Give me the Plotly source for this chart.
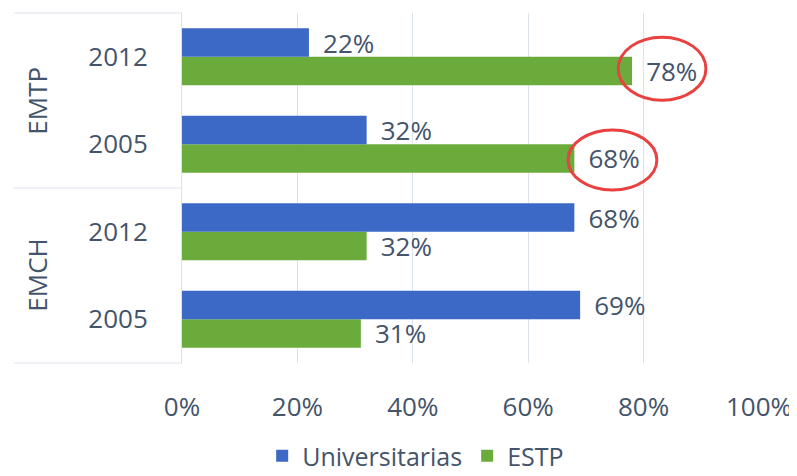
import plotly.graph_objects as go

categories = ["EMCH|2005", "EMCH|2012", "EMTP|2005", "EMTP|2012"]
year_labels = ["2005", "2012", "2005", "2012"]
groups = ["EMCH", "EMTP"]
universitarias = [0.69, 0.68, 0.32, 0.22]
estp = [0.31, 0.32, 0.68, 0.78]
x_ticks = [0, 0.2, 0.4, 0.6, 0.8, 1.0]
x_ticklabels = ["0%", "20%", "40%", "60%", "80%", "100%"]

TXT = "#44546A"
FONT = "Open Sans"
FS = 26
NB = "\u00a0\u2009"

fig = go.Figure()
fig.add_trace(go.Bar(
    y=categories, x=estp, orientation="h", name="ESTP",
    marker=dict(color="#6AAB3C", line=dict(width=0)),
    text=[f"{NB}{round(v*100)}%" for v in estp], textposition="outside",
    constraintext="none",
    textfont=dict(size=FS, color=TXT, family=FONT), cliponaxis=False,
))
fig.add_trace(go.Bar(
    y=categories, x=universitarias, orientation="h", name="Universitarias",
    marker=dict(color="#3D69C6", line=dict(width=0)),
    text=[f"{NB}{round(v*100)}%" for v in universitarias], textposition="outside",
    constraintext="none",
    textfont=dict(size=FS, color=TXT, family=FONT), cliponaxis=False,
))

# page has an 8px body margin, so the figure is sized to fit the window
fig.update_layout(
    width=789, height=468,
    margin=dict(l=173.5, r=38, t=5, b=113, autoexpand=False),
    paper_bgcolor="white", plot_bgcolor="white",
    barmode="group", bargap=0.35, bargroupgap=0,
    font=dict(family=FONT, color=TXT, size=FS),
    showlegend=True,
    legend=dict(orientation="h", x=0.405, xanchor="center", y=-0.266, yanchor="middle",
                traceorder="reversed", font=dict(size=25, color=TXT, family=FONT),
                itemwidth=30, tracegroupgap=0),
)
fig.update_xaxes(
    range=[0, 1.0], tickvals=x_ticks, ticktext=x_ticklabels, automargin=False,
    showgrid=True, gridcolor="#DCE2EA", gridwidth=1, zeroline=False,
    showline=False, ticks="outside", ticklen=21, tickcolor="rgba(0,0,0,0)",
    tickfont=dict(size=FS, color=TXT, family=FONT),
)
fig.update_yaxes(
    categoryorder="array", categoryarray=categories, automargin=False,
    tickvals=categories, ticktext=year_labels,
    showgrid=False, showline=True, linecolor="#DCE2EA", linewidth=1,
    ticks="outside", ticklen=28, tickcolor="rgba(0,0,0,0)",
    tickfont=dict(size=FS, color=TXT, family=FONT),
)

# group separator lines (label area)
x_left = -168.5 / 577.5
for yp in [0, 0.5, 1.0]:
    fig.add_shape(type="line", xref="paper", yref="paper", x0=x_left, x1=0,
                  y0=yp, y1=yp, line=dict(color="#DCE2EA", width=1))
# group labels
for i, g in enumerate(groups):
    fig.add_annotation(text=g, xref="paper", yref="paper", x=-146/577.5,
                       y=0.25 + 0.5*i, showarrow=False, textangle=-90,
                       font=dict(size=FS, color=TXT, family=FONT),
                       xanchor="center", yanchor="middle")

# red highlight ellipses
fig.add_shape(type="circle", xref="x", yref="paper", x0=0.756, x1=0.908,
              y0=0.751, y1=0.931, line=dict(color="#E8413F", width=3))
fig.add_shape(type="circle", xref="x", yref="paper", x0=0.669, x1=0.823,
              y0=0.494, y1=0.666, line=dict(color="#E8413F", width=3))

fig.write_html("out.html")
